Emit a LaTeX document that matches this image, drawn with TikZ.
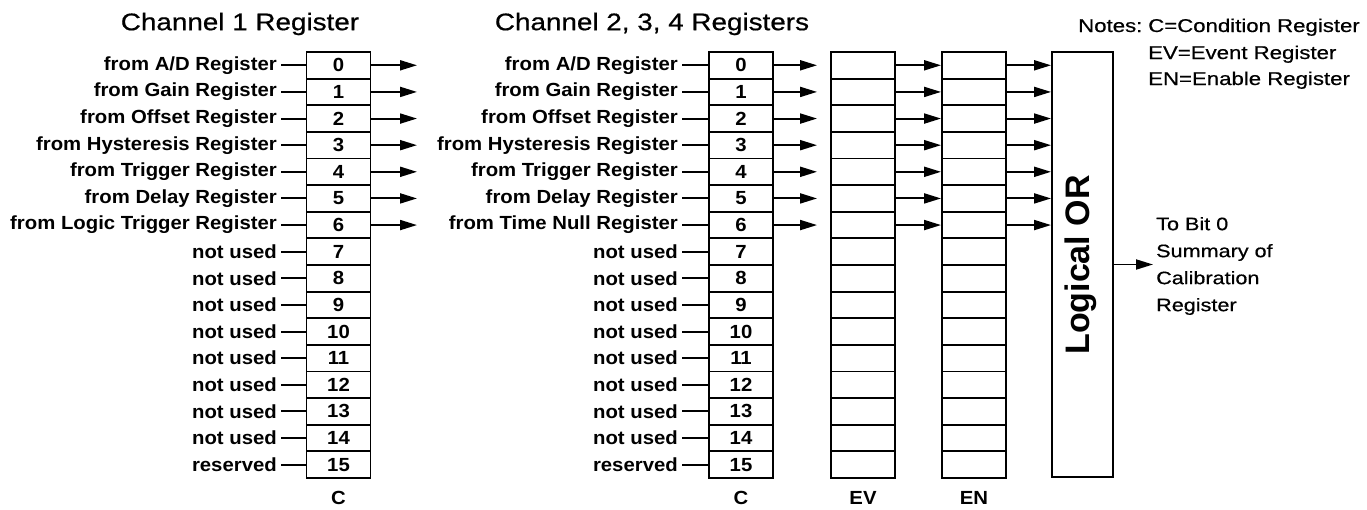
\documentclass[tikz,border=0pt]{standalone}
\usepackage{fontspec}
\setmainfont{Liberation Sans}
\newfontfamily\labf[FakeStretch=1.07]{Liberation Sans}
\newfontfamily\notf[FakeStretch=1.2,FakeBold=0.6]{Liberation Sans}
\newfontfamily\titf[FakeStretch=1.16,FakeBold=0.6]{Liberation Sans}
\usetikzlibrary{arrows.meta}
\begin{document}
\begin{tikzpicture}[x=1pt,y=-1pt,
  lw/.style={line width=1.9pt},
  cell/.style={draw, lw, minimum width=64pt, minimum height=26.625pt, inner sep=0pt,
    font=\labf\bfseries\fontsize{19}{22}\selectfont},
  lab/.style={anchor=east, inner xsep=4pt, inner ysep=0pt,
    font=\labf\bfseries\fontsize{19}{22}\selectfont},
  foot/.style={font=\labf\bfseries\fontsize{19}{22}\selectfont},
  ttl/.style={font=\titf\fontsize{24}{28}\selectfont},
  note/.style={anchor=base west, inner sep=0pt, font=\notf\fontsize{18.5}{22}\selectfont},
  wire/.style={lw},
  arr/.style={lw, -{Triangle[length=17pt,width=10pt]}},
]
\useasboundingbox (0,0) rectangle (1367,509);

% titles
\node[ttl] (t1) at (240,24) {Channel 1 Register};
\node[ttl] (t2) at (652,24) {Channel 2, 3, 4 Registers};

% notes
\node[note] (nn) at (1078,32) {Notes:};
\node[note] (n1) at (1148,32) {C=Condition Register};
\node[note] (n2) at (1148,59) {EV=Event Register};
\node[note] (n3) at (1148,85) {EN=Enable Register};

% channel 1
\foreach \i/\t in {0/{from A/D Register},1/{from Gain Register},2/{from Offset Register},
  3/{from Hysteresis Register},4/{from Trigger Register},5/{from Delay Register},
  6/{from Logic Trigger Register},7/{not used},8/{not used},9/{not used},10/{not used},
  11/{not used},12/{not used},13/{not used},14/{not used},15/{reserved}}{
  \node[cell] (a\i) at (338.5,{65.3+26.625*\i}) {\i};
  \node[lab] (la\i) at (281,{65.3+26.625*\i}) {\t};
  \draw[wire] (la\i.east) -- (a\i.west);
}
\foreach \i in {0,...,6}{
  \coordinate (ao\i) at (417,{65.3+26.625*\i});
  \draw[arr] (a\i.east) -- (ao\i);
}
\node[foot] (c1) at (338.5,498) {C};

% channel 2,3,4
\node[draw, lw, minimum width=61pt, minimum height=425pt, inner sep=0pt] (or) at (1082.5,264.5) {};
\node[rotate=90, font=\bfseries\fontsize{34}{38}\selectfont] (ortext) at (1081,265) {Logical OR};
\foreach \i/\t in {0/{from A/D Register},1/{from Gain Register},2/{from Offset Register},
  3/{from Hysteresis Register},4/{from Trigger Register},5/{from Delay Register},
  6/{from Time Null Register},7/{not used},8/{not used},9/{not used},10/{not used},
  11/{not used},12/{not used},13/{not used},14/{not used},15/{reserved}}{
  \node[cell] (b\i) at (741,{65.3+26.625*\i}) {\i};
  \node[cell] (ev\i) at (863,{65.3+26.625*\i}) {};
  \node[cell] (en\i) at (974,{65.3+26.625*\i}) {};
  \node[lab] (lb\i) at (682,{65.3+26.625*\i}) {\t};
  \draw[wire] (lb\i.east) -- (b\i.west);
}
\foreach \i in {0,...,6}{
  \draw[arr] (b\i.east) -- ([xshift=-13pt]ev\i.west);
  \draw[arr] (ev\i.east) -- (en\i.west);
  \draw[arr] (en\i.east) -- (en\i.east -| or.west);
}
\node[foot] (c2) at (741,498) {C};
\node[foot] (evl) at (863,498) {EV};
\node[foot] (enl) at (974,498) {EN};

\node[anchor=west, align=left, inner xsep=3pt, font=\notf\fontsize{18}{27}\selectfont] (tobit) at (1153,266) {To Bit 0\\Summary of\\Calibration\\Register};
\draw[arr] (or.east) -- (or.east -| tobit.west);
\end{tikzpicture}
\end{document}
